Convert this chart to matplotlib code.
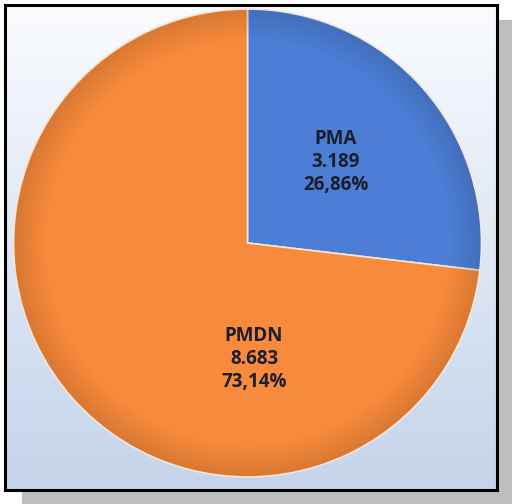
import numpy as np
import matplotlib.pyplot as plt
from matplotlib.patches import Circle

labels = ["PMA", "PMDN"]
values = [3189, 8683]
shares = ["26,86%", "73,14%"]
counts = ["3.189", "8.683"]
colors = ["#4D7ED6", "#F88A3B"]

W, H = 512, 504
fig = plt.figure(figsize=(W / 100, H / 100), dpi=100)
fig.patch.set_facecolor("white")

# drop shadow
sh = fig.add_axes([22 / W, 0, 490 / W, (H - 20) / H], zorder=0)
sh.set_facecolor("#BEBEBE")
sh.set_xticks([])
sh.set_yticks([])
for s in sh.spines.values():
    s.set_visible(False)

# frame with vertical gradient
bg = fig.add_axes([5 / W, (H - 490) / H, 492 / W, 485 / H], zorder=1)
grad = np.linspace(0, 1, 256)[:, None]
top = np.array([0.98, 0.985, 0.995])
bot = np.array([0.77, 0.83, 0.92])
img = top + (bot - top) * grad[..., None]
bg.imshow(img, aspect="auto", extent=[0, 1, 0, 1], origin="upper")
bg.set_xticks([])
bg.set_yticks([])
for s in bg.spines.values():
    s.set_linewidth(2.2)
    s.set_color("black")

# pie
cx, cy, r = 247.5, 243, 234
ax = fig.add_axes([(cx - r) / W, (H - cy - r) / H, 2 * r / W, 2 * r / H], zorder=2)
wedges, _ = ax.pie(values, colors=colors, startangle=90, counterclock=False,
                   wedgeprops=dict(edgecolor="#F3E6DA", linewidth=1.2))

# soft rim shading
g = np.linspace(-1, 1, 400)
xx, yy = np.meshgrid(g, g)
rho = np.hypot(xx, yy)
shade = np.zeros((400, 400, 4))
shade[..., 3] = 0.13 * np.clip((rho - 0.86) / 0.14, 0, 1)
im = ax.imshow(shade, extent=[-1, 1, -1, 1], origin="lower", zorder=3)
im.set_clip_path(Circle((0, 0), 0.995, transform=ax.transData))

ax.set_xlim(-1, 1)
ax.set_ylim(-1, 1)
ax.set_aspect("equal")
ax.axis("off")

pos = [(0.378, 0.346), (0.028, -0.496)]
for (x, y), lab, c, s in zip(pos, labels, counts, shares):
    ax.text(x, y, f"{lab}\n{c}\n{s}", ha="center", va="center", zorder=4,
            fontsize=13.5, fontweight="bold", color="#1A1E2C",
            family=["Open Sans", "DejaVu Sans"], linespacing=1.22)

fig.savefig("out.png", dpi=100)
